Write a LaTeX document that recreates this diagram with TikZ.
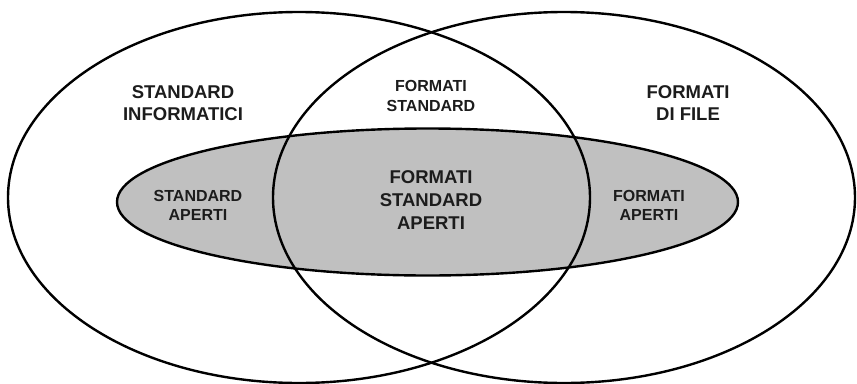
\documentclass[tikz,border=0pt]{standalone}
\usepackage{fontspec}
\setmainfont{Liberation Sans}
\usetikzlibrary{shapes.geometric}
\definecolor{opengrey}{HTML}{C0C0C0}
\definecolor{labelink}{HTML}{1C1C1C}

\begin{document}
\begin{tikzpicture}[
  x = 1pt, y = -1pt,
  bigset/.style     = {ellipse, draw, line width=2.4pt, inner sep=0pt, minimum width=582pt, minimum height=371pt},
  openset/.style    = {ellipse, draw, line width=2.4pt, fill=opengrey, inner sep=0pt, minimum width=621pt, minimum height=147pt},
  biglabel/.style   = {align=center, text=labelink, inner sep=0pt, font=\bfseries\fontsize{18.5}{22.5}\selectfont},
  smalllabel/.style = {align=center, text=labelink, inner sep=0pt, font=\bfseries\fontsize{16}{19.5}\selectfont},
  ]
  \useasboundingbox (0,0) rectangle (857,383);
  % sets
  \node[openset] (aperti) at (427.5,202) {};
  \node[bigset] (informatici) at (299,197.5) {};
  \node[bigset] (file) at (564,197.5) {};
  % labels
  \node[biglabel]   (linf)  at (183,103) {STANDARD\\INFORMATICI};
  \node[biglabel]   (lfile) at (688,103) {FORMATI\\DI FILE};
  \node[smalllabel] (lfstd) at (431,96)  {FORMATI\\STANDARD};
  \node[smalllabel] (lsap)  at (198,205.5) {STANDARD\\APERTI};
  \node[smalllabel] (lfap)  at (649,205.5) {FORMATI\\APERTI};
  \node[biglabel, font=\bfseries\fontsize{18.5}{23.3}\selectfont] (lfsa) at (431,200) {FORMATI\\STANDARD\\APERTI};
\end{tikzpicture}
\end{document}
